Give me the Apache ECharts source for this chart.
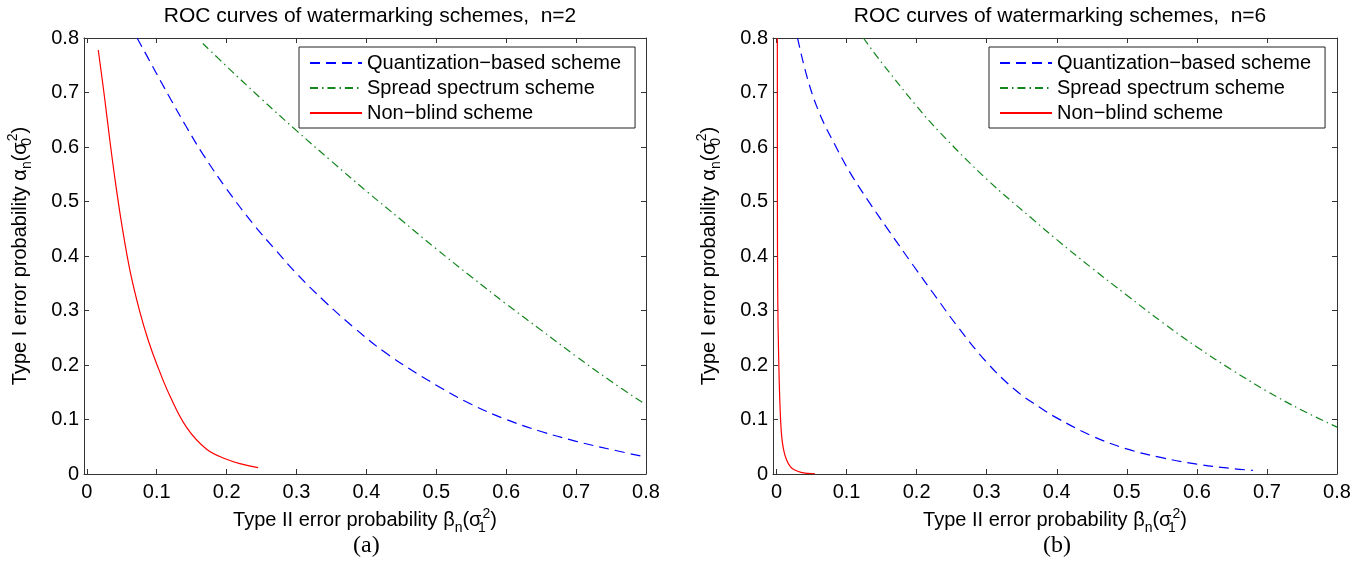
<!DOCTYPE html>
<html>
<head>
<meta charset="utf-8">
<script src="https://cdn.jsdelivr.net/npm/echarts@6/dist/echarts.min.js"></script>
<style>
  html, body { margin: 0; padding: 0; background: #fff; }
  #main { width: 1372px; height: 565px; }
</style>
</head>
<body>
<div id="main"></div>
<script>
const tickValues = [0, 0.1, 0.2, 0.3, 0.4, 0.5, 0.6, 0.7, 0.8]
const seriesNames = ['Quantization\u2212based scheme', 'Spread spectrum scheme', 'Non\u2212blind scheme']

// (a) n=2   [beta, alpha]
const quantN2 = [[0.072, 0.80], [0.095, 0.746], [0.119, 0.690], [0.142, 0.638], [0.166, 0.587], [0.20, 0.523],
  [0.238, 0.459], [0.27, 0.411], [0.30, 0.368], [0.34, 0.317], [0.381, 0.270], [0.43, 0.220], [0.50, 0.163],
  [0.55, 0.128], [0.60, 0.100], [0.65, 0.078], [0.70, 0.060], [0.75, 0.045], [0.80, 0.031]]
const spreadN2 = [[0.166, 0.790], [0.20, 0.748], [0.25, 0.688], [0.30, 0.630], [0.35, 0.574], [0.40, 0.519],
  [0.45, 0.466], [0.50, 0.413], [0.55, 0.362], [0.60, 0.312], [0.65, 0.264], [0.70, 0.216], [0.75, 0.170], [0.80, 0.127]]
const blindN2 = [[0.0164, 0.778], [0.025, 0.695], [0.033, 0.612], [0.041, 0.535], [0.050, 0.458], [0.062, 0.372],
  [0.076, 0.297], [0.088, 0.245], [0.100, 0.202], [0.119, 0.143], [0.143, 0.085], [0.171, 0.046], [0.200, 0.027],
  [0.222, 0.018], [0.245, 0.0116]]

// (b) n=6
const quantN6 = [[0.030, 0.800], [0.045, 0.722], [0.062, 0.660], [0.083, 0.605], [0.105, 0.553], [0.130, 0.503],
  [0.160, 0.447], [0.195, 0.383], [0.228, 0.324], [0.260, 0.268], [0.300, 0.205], [0.340, 0.155], [0.376, 0.122],
  [0.40, 0.103], [0.45, 0.070], [0.50, 0.046], [0.55, 0.030], [0.60, 0.018], [0.65, 0.010], [0.68, 0.0066]]
const spreadN6 = [[0.124, 0.800], [0.15, 0.755], [0.20, 0.675], [0.233, 0.627], [0.30, 0.541], [0.367, 0.466],
  [0.40, 0.430], [0.45, 0.378], [0.50, 0.328], [0.55, 0.279], [0.60, 0.233], [0.65, 0.191], [0.70, 0.152],
  [0.75, 0.117], [0.80, 0.086]]
const blindN6 = [[0.0012, 0.80], [0.0013, 0.50], [0.0018, 0.32], [0.003, 0.22], [0.0047, 0.136], [0.007, 0.075],
  [0.010, 0.045], [0.0143, 0.026], [0.020, 0.013], [0.026, 0.0073], [0.035, 0.003], [0.045, 0.001], [0.055, 0.0003]]

const font = '"Liberation Sans", Arial, sans-serif'
const axisColor = '#333'
const richName = {
  t: { fontSize: 20, lineHeight: 28, fontFamily: font, color: '#000' },
  sub: { fontSize: 14, lineHeight: 14, verticalAlign: 'bottom', fontFamily: font, color: '#000' },
  subw: { fontSize: 14, lineHeight: 14, verticalAlign: 'bottom', width: 1, fontFamily: font, color: '#000' },
  sup: { fontSize: 14, lineHeight: 14, verticalAlign: 'top', fontFamily: font, color: '#000' }
}
const xName = '{t|Type II error probability β}{sub|n}{t|(σ}{subw|1}{sup|2}{t|)}'
const yName = '{t|Type I error probability α}{sub|n}{t|(σ}{subw|0}{sup|2}{t|)}'

function fmt(v) { return String(+(+v).toFixed(1)) }

function xAxes(grid, min) {
  const base = {
    type: 'value', gridIndex: grid, min: min, max: 0.8,
    splitLine: { show: false },
    axisLine: { show: true, onZero: false, lineStyle: { color: axisColor } },
    axisTick: { show: true, inside: true, length: 5, customValues: tickValues, lineStyle: { color: axisColor } }
  }
  return [
    Object.assign({}, base, {
      position: 'bottom', name: xName, nameLocation: 'middle', nameGap: 32,
      nameTextStyle: { rich: richName },
      axisLabel: { customValues: tickValues, formatter: fmt, color: '#000', fontSize: 20, fontFamily: font, margin: 8 }
    }),
    Object.assign({}, base, { position: 'top', axisLabel: { show: false } })
  ]
}

function yAxes(grid) {
  const base = {
    type: 'value', gridIndex: grid, min: 0, max: 0.8, interval: 0.1,
    splitLine: { show: false },
    axisLine: { show: true, onZero: false, lineStyle: { color: axisColor } },
    axisTick: { show: true, inside: true, length: 5, lineStyle: { color: axisColor } }
  }
  return [
    Object.assign({}, base, {
      position: 'left', name: yName, nameLocation: 'middle', nameGap: 50, nameRotate: 90,
      nameTextStyle: { rich: richName },
      axisLabel: { formatter: fmt, color: '#000', fontSize: 20, fontFamily: font, margin: 5 }
    }),
    Object.assign({}, base, { position: 'right', axisLabel: { show: false } })
  ]
}

function curves(axisIdx, quant, spread, blind) {
  const common = { type: 'line', symbol: 'none', showSymbol: false, smooth: 0.4,
    xAxisIndex: axisIdx, yAxisIndex: axisIdx, animation: false }
  return [
    Object.assign({}, common, { name: seriesNames[0], data: quant, color: '#0000ff',
      lineStyle: { color: '#0000ff', width: 1.2, type: [10, 6] } }),
    Object.assign({}, common, { name: seriesNames[1], data: spread, color: '#14861e',
      lineStyle: { color: '#14861e', width: 1.2, type: [8, 4, 1.5, 4] } }),
    Object.assign({}, common, { name: seriesNames[2], data: blind, color: '#ff0000',
      lineStyle: { color: '#ff0000', width: 1.2 } })
  ]
}

function legend(left) {
  return {
    orient: 'vertical', left: left, top: 47, data: seriesNames,
    itemWidth: 52, itemHeight: 14, itemGap: 5,
    padding: [6, 14, 5, 10],
    backgroundColor: '#fff', borderColor: '#222', borderWidth: 1, borderRadius: 0,
    selectedMode: false,
    itemStyle: { opacity: 0 },
    textStyle: { fontSize: 20, fontFamily: font, color: '#000' }
  }
}

const chart = echarts.init(document.getElementById('main'))
chart.setOption({
  animation: false,
  title: [
    { text: 'ROC curves of watermarking schemes,  n=2', left: 365, top: 1, textAlign: 'center',
      textStyle: { fontSize: 21, fontWeight: 'normal', fontFamily: font, color: '#000' } },
    { text: 'ROC curves of watermarking schemes,  n=6', left: 1055, top: 1, textAlign: 'center',
      textStyle: { fontSize: 21, fontWeight: 'normal', fontFamily: font, color: '#000' } }
  ],
  legend: [legend(299), legend(989)],
  grid: [
    { left: 84, top: 38, width: 562, height: 436 },
    { left: 773, top: 38, width: 564, height: 436 }
  ],
  xAxis: xAxes(0, -0.004).concat(xAxes(1, -0.005)),
  yAxis: yAxes(0).concat(yAxes(1)),
  series: curves(0, quantN2, spreadN2, blindN2).concat(curves(2, quantN6, spreadN6, blindN6)),
  graphic: [
    { type: 'text', left: 353, top: 534, style: { text: '(a)', fontSize: 24, fontFamily: '"Liberation Serif", serif', fill: '#000' } },
    { type: 'text', left: 1043, top: 534, style: { text: '(b)', fontSize: 24, fontFamily: '"Liberation Serif", serif', fill: '#000' } }
  ]
})
</script>
</body>
</html>
